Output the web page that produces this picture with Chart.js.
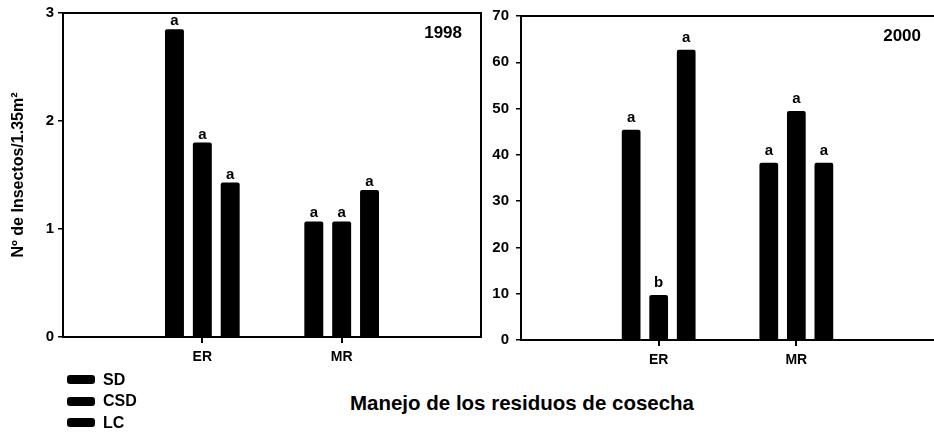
<!DOCTYPE html>
<html>
<head>
<meta charset="utf-8">
<script src="https://cdn.jsdelivr.net/npm/chart.js@4.4.0/dist/chart.umd.min.js"></script>
<style>
  body {
    margin: 0;
    width: 934px;
    height: 433px;
    position: relative;
    overflow: hidden;
    background: #fff;
    font-family: "Liberation Sans", Arial, sans-serif;
    color: #000;
  }
  #left { position: absolute; left: 0; top: 0; }
  #right { position: absolute; left: 484px; top: 0; }
  #legend {
    position: absolute;
    left: 67px;
    top: 369px;
    font-weight: bold;
    font-size: 16px;
  }
  .item { display: flex; align-items: center; height: 21.5px; }
  .swatch { width: 28px; height: 9px; border-radius: 3px; background: #000; margin-right: 8px; }
  #xtitle {
    position: absolute;
    left: 272px;
    width: 500px;
    top: 393px;
    text-align: center;
    font-weight: bold;
    font-size: 20.5px;
    line-height: 20px;
  }
</style>
</head>
<body>
<canvas id="left" width="484" height="380"></canvas>
<canvas id="right" width="450" height="383"></canvas>
<div id="legend"></div>
<div id="xtitle">Manejo de los residuos de cosecha</div>

<script>
// Data
const categories = ['ER', 'MR'];
const seriesNames = ['SD', 'CSD', 'LC'];

const sd1998 = [2.85, 1.07];
const csd1998 = [1.80, 1.07];
const lc1998 = [1.43, 1.36];
const letters1998 = [['a', 'a'], ['a', 'a'], ['a', 'a']];
const yMax1998 = 3;
const yStep1998 = 1;

const sd2000 = [45.4, 38.3];
const csd2000 = [9.7, 49.5];
const lc2000 = [62.7, 38.3];
const letters2000 = [['a', 'a'], ['b', 'a'], ['a', 'a']];
const yMax2000 = 70;
const yStep2000 = 10;

const yTitle = 'Nº de Insectos/1.35m²';
const FONT = '"Liberation Sans", Arial, sans-serif';

// categories sit at x = 1, 2 on an axis running 0..3
function toPoints(values) {
    return values.map((v, i) => ({ x: i + 1, y: v }));
}

// top/right box lines plus the year label
const framePlugin = {
    id: 'frame',
    afterDraw(chart, args, opts) {
        const { ctx, chartArea: a } = chart;
        ctx.save();
        ctx.strokeStyle = '#000';
        ctx.lineWidth = 2;
        ctx.beginPath();
        ctx.moveTo(a.left, a.top);
        ctx.lineTo(a.right, a.top);
        if (opts.right) ctx.lineTo(a.right, a.bottom);
        ctx.stroke();

        ctx.fillStyle = '#000';
        ctx.font = 'bold 17px ' + FONT;
        ctx.textAlign = 'right';
        ctx.textBaseline = 'alphabetic';
        ctx.fillText(opts.year, a.right - opts.yearRight, a.top + 25);
        ctx.restore();
    }
};

// significance letters above each bar
const lettersPlugin = {
    id: 'letters',
    afterDatasetsDraw(chart, args, opts) {
        const ctx = chart.ctx;
        ctx.save();
        ctx.fillStyle = '#000';
        ctx.font = 'bold 15px ' + FONT;
        ctx.textAlign = 'center';
        ctx.textBaseline = 'alphabetic';
        chart.data.datasets.forEach((ds, i) => {
            const meta = chart.getDatasetMeta(i);
            meta.data.forEach((bar, j) => {
                const letter = opts.letters[i][j];
                if (!letter) return;
                ctx.fillText(letter, bar.x, bar.y - opts.gap);
            });
        });
        ctx.restore();
    }
};

function makeChart(canvasId, cfg) {
    const values = [cfg.sd, cfg.csd, cfg.lc];
    return new Chart(document.getElementById(canvasId), {
        type: 'bar',
        data: {
            datasets: seriesNames.map((name, i) => ({
                label: name,
                data: toPoints(values[i]),
                backgroundColor: '#000',
                borderRadius: { topLeft: 2, topRight: 2 },
                borderSkipped: 'start',
                categoryPercentage: 0.6,
                barPercentage: 0.68
            }))
        },
        options: {
            responsive: false,
            animation: false,
            devicePixelRatio: 1,
            layout: { padding: cfg.padding },
            plugins: {
                legend: { display: false },
                tooltip: { enabled: false },
                frame: { right: cfg.frameRight, year: cfg.year, yearRight: cfg.yearRight },
                letters: { letters: cfg.letters, gap: cfg.gap }
            },
            scales: {
                x: {
                    type: 'linear',
                    min: 0,
                    max: categories.length + 1,
                    offset: false,
                    afterBuildTicks: (scale) => {
                        scale.ticks = categories.map((_, i) => ({ value: i + 1 }));
                    },
                    afterFit: (scale) => { scale.height = cfg.xHeight; },
                    border: { display: true, color: '#000', width: 2 },
                    grid: {
                        offset: false,
                        drawOnChartArea: false,
                        drawTicks: true,
                        tickLength: 6,
                        lineWidth: 2,
                        color: '#000'
                    },
                    ticks: {
                        color: '#000',
                        padding: 6,
                        maxRotation: 0,
                        autoSkip: false,
                        callback: (v) => categories[v - 1],
                        font: { family: FONT, size: 14, weight: 'bold' }
                    }
                },
                y: {
                    min: 0,
                    max: cfg.yMax,
                    afterFit: (scale) => { scale.width = cfg.yWidth; },
                    border: { display: true, color: '#000', width: 2 },
                    grid: {
                        drawOnChartArea: false,
                        drawTicks: true,
                        tickLength: 5,
                        lineWidth: 1.5,
                        color: '#000'
                    },
                    ticks: {
                        stepSize: cfg.yStep,
                        color: '#000',
                        padding: cfg.tickPad,
                        font: { family: FONT, size: 15, weight: 'bold' }
                    },
                    title: {
                        display: !!cfg.title,
                        text: cfg.title || '',
                        color: '#000',
                        padding: { top: 9, bottom: 0 },
                        font: { family: FONT, size: 16, weight: 'bold' }
                    }
                }
            }
        },
        plugins: [framePlugin, lettersPlugin]
    });
}

makeChart('left', {
    sd: sd1998, csd: csd1998, lc: lc1998,
    letters: letters1998, gap: 4,
    yMax: yMax1998, yStep: yStep1998,
    yWidth: 63, xHeight: 43, tickPad: 4,
    padding: { top: 12, right: 3, bottom: 0, left: 0 },
    title: yTitle,
    frameRight: true, year: '1998', yearRight: 19
});

makeChart('right', {
    sd: sd2000, csd: csd2000, lc: lc2000,
    letters: letters2000, gap: 8,
    yMax: yMax2000, yStep: yStep2000,
    yWidth: 37, xHeight: 43, tickPad: 7,
    padding: { top: 13, right: 0, bottom: 0, left: 0 },
    title: null,
    frameRight: false, year: '2000', yearRight: 13
});

// legend built from the series names
const legend = document.getElementById('legend');
seriesNames.forEach(name => {
    const row = document.createElement('div');
    row.className = 'item';
    row.innerHTML = '<span class="swatch"></span><span>' + name + '</span>';
    legend.appendChild(row);
});
</script>
</body>
</html>
